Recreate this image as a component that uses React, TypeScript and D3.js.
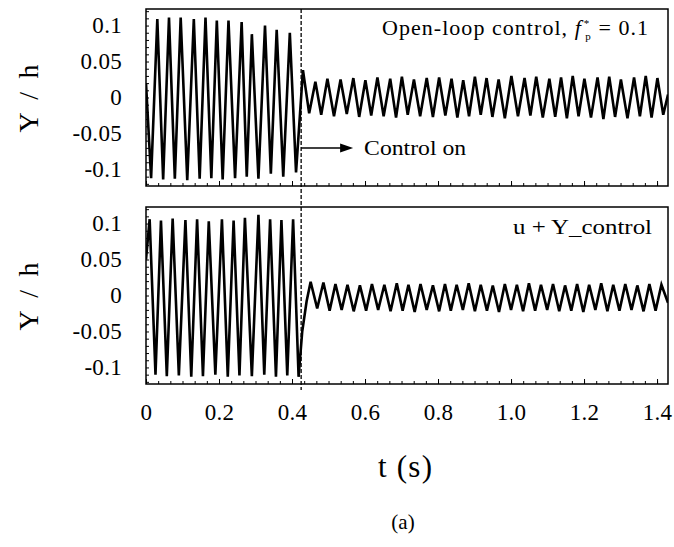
import React, { useEffect, useRef } from "react";
import * as d3 from "d3";

const W = 674;
const H = 547;
const FONT = "'Liberation Serif', 'Times New Roman', serif";

// axis stuff
const xTickValues = [0, 0.2, 0.4, 0.6, 0.8, 1.0, 1.2, 1.4];
const xTickLabels = ["0", "0.2", "0.4", "0.6", "0.8", "1.0", "1.2", "1.4"];
const yTickValues = [0.1, 0.05, 0, -0.05, -0.1];
const yTickLabels = ["0.1", "0.05", "0", "-0.05", "-0.1"];
const controlOnT = 0.425;

// Y/h, open-loop control (t in s, Y/h) -- peaks and troughs
const openLoopTrace: [number, number][] = [
  [0.000, 0.020], [0.014, -0.112], [0.031, 0.109], [0.047, -0.114], [0.063, 0.111],
  [0.079, -0.113], [0.095, 0.111], [0.113, -0.115], [0.131, 0.109], [0.147, -0.113],
  [0.163, 0.111], [0.179, -0.112], [0.194, 0.107], [0.210, -0.114], [0.226, 0.107],
  [0.244, -0.112], [0.262, 0.105], [0.276, -0.110], [0.290, 0.088], [0.308, -0.113],
  [0.326, 0.100], [0.342, -0.106], [0.358, 0.094], [0.376, -0.110], [0.394, 0.090],
  [0.411, -0.104], [0.430, 0.038], [0.447, -0.022], [0.464, 0.022], [0.480, -0.024],
  [0.497, 0.026], [0.515, -0.026], [0.533, 0.025], [0.550, -0.023], [0.568, 0.027],
  [0.584, -0.027], [0.601, 0.024], [0.617, -0.025], [0.634, 0.028], [0.651, -0.026],
  [0.669, 0.026], [0.685, -0.028], [0.701, 0.029], [0.717, -0.024], [0.734, 0.025],
  [0.751, -0.026], [0.769, 0.027], [0.786, -0.027], [0.803, 0.028], [0.820, -0.025],
  [0.837, 0.026], [0.853, -0.028], [0.869, 0.024], [0.885, -0.026], [0.901, 0.029],
  [0.917, -0.024], [0.933, 0.027], [0.949, -0.027], [0.966, 0.025], [0.983, -0.029],
  [1.001, 0.030], [1.019, -0.026], [1.037, 0.027], [1.053, -0.025], [1.069, 0.029],
  [1.087, -0.028], [1.105, 0.026], [1.121, -0.027], [1.137, 0.028], [1.153, -0.029],
  [1.169, 0.030], [1.185, -0.026], [1.201, 0.026], [1.219, -0.028], [1.237, 0.028],
  [1.253, -0.030], [1.269, 0.029], [1.285, -0.027], [1.301, 0.025], [1.319, -0.029],
  [1.337, 0.028], [1.353, -0.026], [1.369, 0.030], [1.385, -0.028], [1.401, 0.027],
  [1.417, -0.024], [1.430, 0.004],
];

// Y/h, u + Y_control
const feedbackTrace: [number, number][] = [
  [0.000, 0.050], [0.010, 0.106], [0.026, -0.110], [0.041, 0.104], [0.057, -0.112],
  [0.073, 0.107], [0.090, -0.111], [0.108, 0.105], [0.124, -0.113], [0.140, 0.106],
  [0.156, -0.112], [0.172, 0.103], [0.190, -0.110], [0.208, 0.106], [0.224, -0.113],
  [0.240, 0.104], [0.256, -0.111], [0.271, 0.108], [0.290, -0.112], [0.308, 0.112],
  [0.324, -0.110], [0.340, 0.106], [0.356, -0.113], [0.371, 0.105], [0.387, -0.111],
  [0.403, 0.106], [0.418, -0.113], [0.428, -0.050], [0.440, -0.008], [0.451, 0.019],
  [0.469, -0.018], [0.486, 0.018], [0.503, -0.021], [0.519, 0.016], [0.536, -0.020],
  [0.552, 0.015], [0.569, -0.022], [0.586, 0.014], [0.603, -0.021], [0.619, 0.016],
  [0.636, -0.020], [0.653, 0.015], [0.670, -0.022], [0.687, 0.017], [0.703, -0.021],
  [0.719, 0.015], [0.736, -0.023], [0.752, 0.016], [0.769, -0.020], [0.786, 0.014],
  [0.803, -0.022], [0.819, 0.016], [0.835, -0.021], [0.851, 0.015], [0.868, -0.020],
  [0.884, 0.017], [0.901, -0.022], [0.917, 0.015], [0.934, -0.021], [0.950, 0.014],
  [0.967, -0.023], [0.983, 0.016], [1.000, -0.020], [1.016, 0.015], [1.033, -0.022],
  [1.049, 0.017], [1.066, -0.021], [1.082, 0.015], [1.099, -0.020], [1.115, 0.016],
  [1.132, -0.022], [1.148, 0.014], [1.165, -0.021], [1.181, 0.016], [1.198, -0.023],
  [1.214, 0.015], [1.231, -0.020], [1.247, 0.017], [1.264, -0.022], [1.280, 0.015],
  [1.297, -0.021], [1.313, 0.016], [1.330, -0.020], [1.346, 0.014], [1.363, -0.022],
  [1.379, 0.016], [1.396, -0.021], [1.412, 0.015], [1.430, -0.010],
];

export default function App() {
  const ref = useRef<SVGSVGElement>(null);

  useEffect(() => {
    const svg = d3.select(ref.current);
    svg.selectAll("*").remove();

    const x = d3.scaleLinear().domain([0, 1.43]).range([146, 668]);
    const xMinor = d3.range(0, 1.43, 0.2 / 6);

    const panels = [
      { top: 9, bottom: 186, data: openLoopTrace, id: "p1" },
      { top: 207, bottom: 384, data: feedbackTrace, id: "p2" },
    ];

    panels.forEach((p, i) => {
      const y = d3.scaleLinear().domain([-0.123, 0.123]).range([p.bottom, p.top]);
      const g = svg.append("g");

      g.append("clipPath").attr("id", p.id)
        .append("rect")
        .attr("x", x(0)).attr("y", p.top)
        .attr("width", x(1.43) - x(0)).attr("height", p.bottom - p.top);

      const line = d3.line<[number, number]>()
        .x(d => x(d[0]))
        .y(d => y(d[1]));

      g.append("path")
        .datum(p.data)
        .attr("clip-path", `url(#${p.id})`)
        .attr("fill", "none")
        .attr("stroke", "#000")
        .attr("stroke-width", 2.6)
        .attr("d", line);

      // inward ticks on the bottom edge
      g.append("g")
        .attr("transform", `translate(0,${p.bottom})`)
        .call(d3.axisTop(x).tickValues(xMinor).tickSize(3).tickFormat(() => ""))
        .call(a => a.select(".domain").remove());
      g.append("g")
        .attr("transform", `translate(0,${p.bottom})`)
        .call(d3.axisTop(x).tickValues(xTickValues).tickSize(5).tickFormat(() => ""))
        .call(a => a.select(".domain").remove());

      // inward ticks on the left edge
      g.append("g")
        .attr("transform", `translate(${x(0)},0)`)
        .call(d3.axisRight(y).tickValues(d3.range(-0.12, 0.1201, 0.01)).tickSize(3).tickFormat(() => ""))
        .call(a => a.select(".domain").remove());

      const yAxis = g.append("g")
        .attr("transform", `translate(${x(0)},0)`)
        .call(d3.axisLeft(y).tickValues(yTickValues).tickSize(0).tickPadding(24)
          .tickFormat((d, k) => yTickLabels[k]));
      yAxis.select(".domain").remove();
      yAxis.selectAll("text")
        .attr("font-family", FONT).attr("font-size", 23).attr("fill", "#000")
        .attr("letter-spacing", 0.3);

      g.append("rect")
        .attr("x", x(0)).attr("y", p.top)
        .attr("width", x(1.43) - x(0)).attr("height", p.bottom - p.top)
        .attr("fill", "none").attr("stroke", "#000").attr("stroke-width", 1.5);

      g.append("text")
        .attr("transform", `translate(38,${(p.top + p.bottom) / 2 + 1}) rotate(-90)`)
        .attr("text-anchor", "middle")
        .attr("font-family", FONT).attr("font-size", 28)
        .attr("textLength", 68).attr("lengthAdjust", "spacing")
        .text("Y / h");

      if (i === 1) {
        const xAxis = g.append("g")
          .attr("transform", `translate(0,${p.bottom})`)
          .call(d3.axisBottom(x).tickValues(xTickValues).tickSize(0).tickPadding(20)
            .tickFormat((d, k) => xTickLabels[k]));
        xAxis.select(".domain").remove();
        xAxis.selectAll("text")
          .attr("font-family", FONT).attr("font-size", 23).attr("fill", "#000")
          .attr("letter-spacing", 0.3);
      }
    });

    // control on dashed line, through both panels
    svg.append("line")
      .attr("x1", x(controlOnT)).attr("x2", x(controlOnT))
      .attr("y1", 9).attr("y2", 390)
      .attr("stroke", "#000").attr("stroke-width", 1.3)
      .attr("stroke-dasharray", "4,2");

    // annotations
    const t1 = svg.append("text")
      .attr("x", 382).attr("y", 35)
      .attr("font-family", FONT).attr("font-size", 22)
      .attr("textLength", 266).attr("lengthAdjust", "spacing");
    t1.append("tspan").text("Open-loop control, ");
    t1.append("tspan").attr("font-style", "italic").text("f");
    t1.append("tspan").attr("font-size", 11).attr("dy", -8).attr("dx", 2).text("*");
    t1.append("tspan").attr("font-size", 11).attr("dy", 13).attr("dx", -5).text("p");
    t1.append("tspan").attr("dy", -5).text(" = 0.1");

    const ay = 148;
    svg.append("line")
      .attr("x1", x(controlOnT)).attr("x2", x(controlOnT) + 42)
      .attr("y1", ay).attr("y2", ay)
      .attr("stroke", "#000").attr("stroke-width", 1.6);
    svg.append("path")
      .attr("d", `M${x(controlOnT) + 39},${ay - 4.5}L${x(controlOnT) + 52},${ay}L${x(controlOnT) + 39},${ay + 4.5}Z`)
      .attr("fill", "#000");
    svg.append("text")
      .attr("x", x(controlOnT) + 63).attr("y", 155)
      .attr("font-family", FONT).attr("font-size", 22)
      .attr("textLength", 102).attr("lengthAdjust", "spacingAndGlyphs")
      .text("Control on");

    svg.append("text")
      .attr("x", 652).attr("y", 234)
      .attr("text-anchor", "end")
      .attr("font-family", FONT).attr("font-size", 22)
      .attr("textLength", 139).attr("lengthAdjust", "spacingAndGlyphs")
      .text("u + Y_control");

    svg.append("text")
      .attr("x", 405).attr("y", 477)
      .attr("text-anchor", "middle")
      .attr("font-family", FONT).attr("font-size", 31)
      .attr("textLength", 54).attr("lengthAdjust", "spacing")
      .text("t (s)");

    svg.append("text")
      .attr("x", 403).attr("y", 529)
      .attr("text-anchor", "middle")
      .attr("font-family", FONT).attr("font-size", 21)
      .text("(a)");
  }, []);

  return (
    <svg ref={ref} width={W} height={H}
      style={{ position: "absolute", left: 0, top: 0, background: "#fff" }} />
  );
}
